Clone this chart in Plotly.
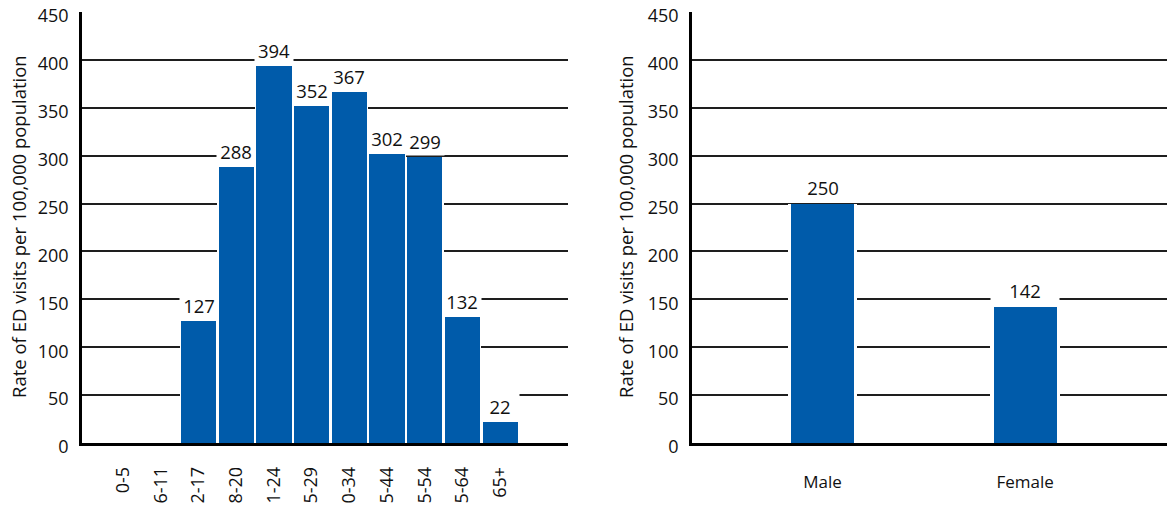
import plotly.graph_objects as go

age_groups = ["0-5", "6-11", "2-17", "8-20", "1-24", "5-29", "0-34", "5-44", "5-54", "5-64", "65+"]
age_rates = [None, None, 127, 288, 394, 352, 367, 302, 299, 132, 22]
sex_groups = ["Male", "Female"]
sex_rates = [250, 142]
y_ticks = [0, 50, 100, 150, 200, 250, 300, 350, 400, 450]
y_title = "Rate of ED visits per 100,000 population"

BLUE = "#005BAA"
TXT = "#111111"
FONT = "Open Sans, Noto Sans, sans-serif"
W, H = 1167, 510

fig = go.Figure()
# white halo bars (hide gridlines next to bars), then blue bars on top
fig.add_trace(go.Bar(x=list(range(len(age_groups))), y=age_rates, xaxis="x", yaxis="y",
                     marker=dict(color="white", line=dict(width=0)), width=1.0,
                     showlegend=False, hoverinfo="skip"))
fig.add_trace(go.Bar(x=list(range(len(age_groups))), y=age_rates, xaxis="x", yaxis="y",
                     marker=dict(color=BLUE, line=dict(width=0)), width=0.935,
                     showlegend=False, hoverinfo="skip"))
fig.add_trace(go.Bar(x=list(range(len(sex_groups))), y=sex_rates, xaxis="x2", yaxis="y2",
                     marker=dict(color="white", line=dict(width=0)), width=0.345,
                     showlegend=False, hoverinfo="skip"))
fig.add_trace(go.Bar(x=list(range(len(sex_groups))), y=sex_rates, xaxis="x2", yaxis="y2",
                     marker=dict(color=BLUE, line=dict(width=0)), width=0.311,
                     showlegend=False, hoverinfo="skip"))

ydom = [1 - 443 / H, 1 - 12 / H]
yax = dict(range=[0, 450.01], tickvals=y_ticks, showgrid=True, gridcolor="#1e1e1e", gridwidth=1.8,
           showline=True, linecolor="black", linewidth=2.5, zeroline=False, automargin=False,
           ticks="", tickfont=dict(family=FONT, size=18, color=TXT), ticklabelstandoff=7,
           ticklabelshift=4, ticklabeloverflow="allow", domain=ydom, fixedrange=True)

fig.update_layout(
    width=W, height=H, margin=dict(l=0, r=0, t=0, b=0, autoexpand=False),
    paper_bgcolor="white", plot_bgcolor="white", barmode="overlay", bargap=0,
    xaxis=dict(domain=[82 / W, 568 / W], range=[-1.09, 11.8], tickvals=list(range(len(age_groups))),
               ticktext=age_groups, tickangle=-90, showline=True, linecolor="black", linewidth=2.5,
               ticks="", ticklabelstandoff=14, tickfont=dict(family=FONT, size=18, color=TXT),
               ticklabeloverflow="allow",
               showgrid=False, zeroline=False, anchor="y", automargin=False, fixedrange=True),
    yaxis=dict(**yax, anchor="x"),
    xaxis2=dict(domain=[692 / W, 1.0], range=[-0.644, 1.70], tickvals=list(range(len(sex_groups))),
                ticktext=sex_groups, showline=True, linecolor="black", linewidth=2.5,
                ticks="", ticklabelstandoff=22, tickfont=dict(family=FONT, size=17, color=TXT),
                showgrid=False, zeroline=False, anchor="y2", automargin=False, fixedrange=True),
    yaxis2=dict(**yax, anchor="x2"),
)

ann = []
for i, v in enumerate(age_rates):
    if v is not None:
        ann.append(dict(x=i, y=v, xref="x", yref="y", text=str(v), showarrow=False, yanchor="bottom",
                        yshift=1, bgcolor="white", borderpad=1, width=36,
                        font=dict(family=FONT, size=18.5, color=TXT)))
for i, v in enumerate(sex_rates):
    ann.append(dict(x=i, y=v, xref="x2", yref="y2", text=str(v), showarrow=False, yanchor="bottom",
                    yshift=2, bgcolor="white", borderpad=1, width=66,
                    font=dict(family=FONT, size=18.5, color=TXT)))
for xp in [18 / W, 625 / W]:
    ann.append(dict(x=xp, y=1 - 227 / H, xref="paper", yref="paper", text=y_title, textangle=-90,
                    xanchor="center", yanchor="middle",
                    showarrow=False, font=dict(family=FONT, size=18.5, color=TXT)))
fig.update_layout(annotations=ann)

fig.write_html("out.html")
